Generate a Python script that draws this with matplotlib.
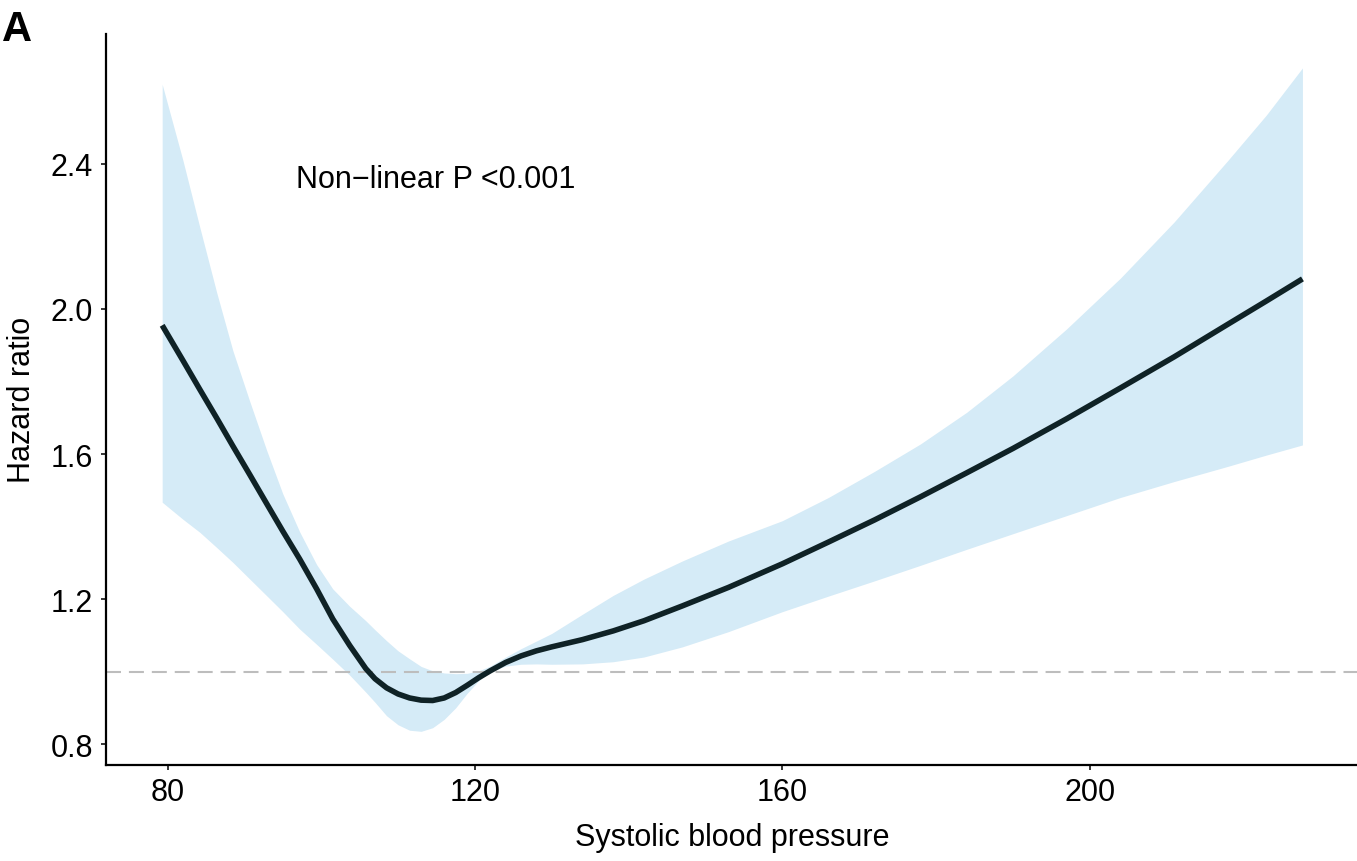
import numpy as np
import matplotlib.pyplot as plt

plt.rcParams['font.family'] = ['Liberation Sans', 'DejaVu Sans']

# systolic blood pressure grid
sbp = [79.3, 82, 84.2, 86.4, 88.5, 90.7, 92.9, 95, 97.2, 99.4, 101.5, 103.7,
       105.8, 107, 108.5, 110, 111.5, 113, 114.5, 116, 117.5, 119, 120.5, 122,
       124, 126, 128, 130, 134, 138, 142, 147, 153, 160, 166, 172, 178, 184,
       190, 197, 204, 211, 218, 223, 227.7]

# hazard ratio estimate
hr = [1.955, 1.858, 1.778, 1.699, 1.622, 1.543, 1.463, 1.387, 1.31, 1.228,
      1.145, 1.072, 1.008, 0.98, 0.955, 0.938, 0.927, 0.921, 0.92, 0.927,
      0.942, 0.962, 0.983, 1.002, 1.025, 1.043, 1.057, 1.068, 1.088, 1.112,
      1.14, 1.181, 1.232, 1.297, 1.357, 1.418, 1.482, 1.548, 1.615, 1.697,
      1.782, 1.868, 1.958, 2.022, 2.083]

# 95% confidence band
hr_low = [1.467, 1.42, 1.384, 1.342, 1.301, 1.255, 1.209, 1.165, 1.117, 1.075,
          1.034, 0.99, 0.943, 0.915, 0.878, 0.853, 0.838, 0.835, 0.845, 0.868,
          0.9, 0.94, 0.975, 1.0, 1.015, 1.02, 1.021, 1.02, 1.021, 1.027, 1.04,
          1.068, 1.11, 1.165, 1.208, 1.25, 1.293, 1.337, 1.38, 1.43, 1.48,
          1.524, 1.566, 1.597, 1.625]
hr_high = [2.62, 2.41, 2.225, 2.045, 1.885, 1.745, 1.61, 1.49, 1.385, 1.295,
           1.228, 1.18, 1.14, 1.115, 1.085, 1.057, 1.035, 1.014, 1.002, 0.996,
           0.994, 0.995, 1.002, 1.015, 1.04, 1.063, 1.084, 1.105, 1.158, 1.21,
           1.255, 1.305, 1.36, 1.416, 1.48, 1.552, 1.628, 1.715, 1.815, 1.945,
           2.085, 2.24, 2.41, 2.535, 2.665]

x_ticks = [80, 120, 160, 200]
y_ticks = [0.8, 1.2, 1.6, 2.0, 2.4]
annot = "Non\u2212linear P <0.001"

fig = plt.figure(figsize=(13.57, 8.62), dpi=100)
ax = fig.add_axes([0.0779, 0.1117, 0.9221, 0.8477])

ax.fill_between(sbp, hr_low, hr_high, color='#d5ebf7', linewidth=0)
ax.axhline(1.0, color='#bdbdbd', lw=1.5, dashes=(7.2, 3.8))
ax.plot(sbp, hr, color='#0f2226', lw=4.0, solid_capstyle='butt',
        solid_joinstyle='round')

ax.text(96.7, 2.359, annot, fontsize=22, ha='left', va='center')

ax.set_xlim(71.95, 234.8)
ax.set_ylim(0.7429, 2.7586)
ax.set_xticks(x_ticks)
ax.set_yticks(y_ticks)
ax.set_xticklabels([str(v) for v in x_ticks])
ax.set_yticklabels(['%.1f' % v for v in y_ticks])
ax.tick_params(labelsize=22, length=3.6, width=1.1, pad=5.5, colors='black')

for s in ['top', 'right']:
    ax.spines[s].set_visible(False)
for s in ['left', 'bottom']:
    ax.spines[s].set_linewidth(1.6)

fig.text(22 / 1357, 1 - 400 / 862, 'Hazard ratio', rotation=90,
         ha='center', va='center', fontsize=22)
fig.text(732 / 1357, 1 - 838 / 862, 'Systolic blood pressure',
         ha='center', va='center', fontsize=22)
fig.text(2 / 1357, 1 - 30 / 862, 'A', fontsize=30, fontweight='bold',
         ha='left', va='center')

fig.savefig('out.png', dpi=100)
